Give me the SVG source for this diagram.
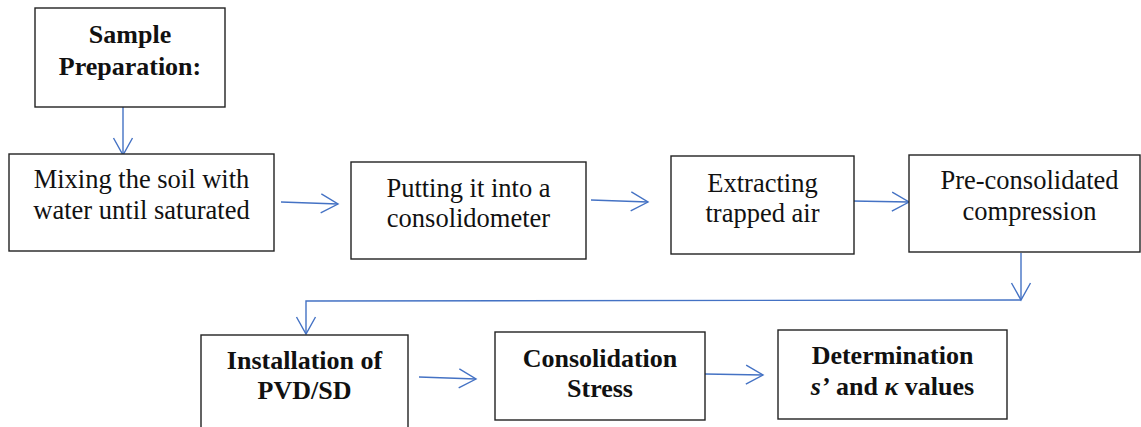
<svg xmlns="http://www.w3.org/2000/svg" width="1141" height="427" viewBox="0 0 1141 427">
<style>
.box{fill:#fff;stroke:#222;stroke-width:1.4}
text{font-family:'Liberation Serif','DejaVu Serif',serif;fill:#111;text-anchor:middle}
.t{font-size:26.5px}
.b{font-size:26px;font-weight:bold}
.c{fill:none;stroke:#4472C4;stroke-width:1.4}
</style>
<defs>
<marker id="ah" markerUnits="userSpaceOnUse" viewBox="-20 -12 24 24" refX="0" refY="0" markerWidth="24" markerHeight="24" orient="auto">
<path d="M-17,-9.5 L0,0 L-17,9.5" fill="none" stroke="#4472C4" stroke-width="1.4"/>
</marker>
</defs>
<rect width="1141" height="427" fill="#fff"/>
<g id="connectors">
<line class="c" x1="123" y1="107" x2="123" y2="155" marker-end="url(#ah)"/>
<line class="c" x1="281" y1="202" x2="338" y2="204" marker-end="url(#ah)"/>
<line class="c" x1="591" y1="200" x2="648" y2="202" marker-end="url(#ah)"/>
<line class="c" x1="852" y1="201" x2="909" y2="202" marker-end="url(#ah)"/>
<line class="c" x1="1021" y1="253" x2="1021" y2="300" marker-end="url(#ah)"/>
<polyline class="c" points="1021,300 306,301 306,334" marker-end="url(#ah)"/>
<line class="c" x1="419" y1="377" x2="476" y2="379" marker-end="url(#ah)"/>
<line class="c" x1="705" y1="374" x2="763" y2="375" marker-end="url(#ah)"/>
</g>
<g id="sample-preparation">
<rect class="box" x="35" y="8" width="190" height="99"/>
<text class="b" x="130" y="43" font-family="Liberation Serif, serif">Sample</text>
<text class="b" x="130" y="75" font-family="Liberation Serif, serif">Preparation:</text>
</g>
<g id="mixing">
<rect class="box" x="9" y="154" width="265" height="97"/>
<text class="t" x="141.5" y="188" font-family="Liberation Serif, serif">Mixing the soil with</text>
<text class="t" x="141.5" y="219" font-family="Liberation Serif, serif">water until saturated</text>
</g>
<g id="putting">
<rect class="box" x="351" y="162" width="235" height="97"/>
<text class="t" x="468.5" y="197" font-family="Liberation Serif, serif">Putting it into a</text>
<text class="t" x="468.5" y="227" font-family="Liberation Serif, serif">consolidometer</text>
</g>
<g id="extracting">
<rect class="box" x="671" y="156" width="183" height="98"/>
<text class="t" x="762.5" y="192" font-family="Liberation Serif, serif">Extracting</text>
<text class="t" x="762.5" y="222" font-family="Liberation Serif, serif">trapped air</text>
</g>
<g id="preconsolidated">
<rect class="box" x="909" y="155" width="231" height="97"/>
<text class="t" x="1029.5" y="189" font-family="Liberation Serif, serif">Pre-consolidated</text>
<text class="t" x="1029.5" y="220" font-family="Liberation Serif, serif">compression</text>
</g>
<g id="installation">
<rect class="box" x="201" y="335" width="207" height="100"/>
<text class="b" x="304.5" y="369" font-family="Liberation Serif, serif">Installation of</text>
<text class="b" x="304.5" y="399" font-family="Liberation Serif, serif">PVD/SD</text>
</g>
<g id="consolidation">
<rect class="box" x="495" y="332" width="210" height="88"/>
<text class="b" x="600" y="367" font-family="Liberation Serif, serif">Consolidation</text>
<text class="b" x="600" y="397" font-family="Liberation Serif, serif">Stress</text>
</g>
<g id="determination">
<rect class="box" x="778" y="330" width="229" height="89"/>
<text class="b" x="892.5" y="364" font-family="Liberation Serif, serif">Determination</text>
<text class="b" x="892.5" y="395" font-family="Liberation Serif, serif"><tspan font-style="italic">s’</tspan> and <tspan font-style="italic">κ</tspan> values</text>
</g>
</svg>
